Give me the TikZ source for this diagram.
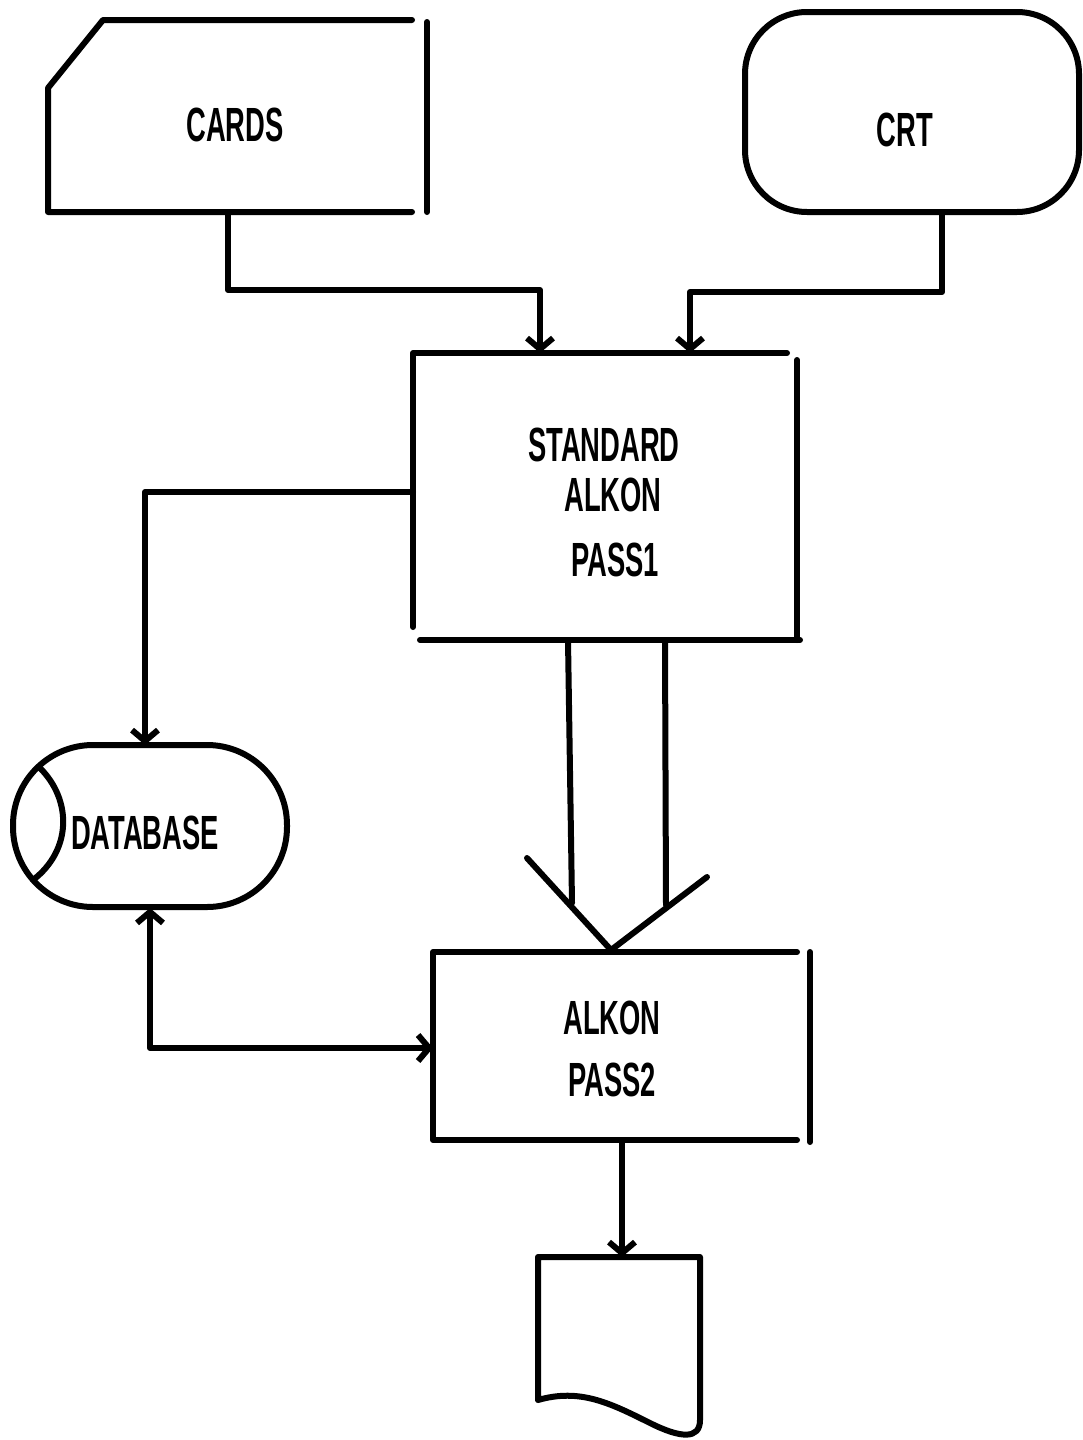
\documentclass[tikz,border=0pt]{standalone}
\usepackage{fontspec}
\newfontfamily\lblfont{Liberation Sans}[FakeStretch=0.57]
\usetikzlibrary{arrows.meta}
\begin{document}
\begin{tikzpicture}[x=1pt,y=-1pt,
  ln/.style={line width=6pt, line cap=round, line join=round},
  >={Straight Barb[length=11pt,width=26pt,line width=6pt]},
  lbl/.style={font=\lblfont\bfseries\fontsize{48}{52}\selectfont, inner sep=0pt}]
\useasboundingbox (0,0) rectangle (1083,1440);
% labels
\node[lbl] (cards) at (235,125) {CARDS};
\node[lbl] (crt) at (905,130) {CRT};
\node[lbl] (s1a) at (604,445) {STANDARD};
\node[lbl] (s1b) at (613,495) {ALKON};
\node[lbl] (s1c) at (615,560) {PASS1};
\node[lbl] (db) at (145,833) {DATABASE};
\node[lbl] (s2a) at (612,1018) {ALKON};
\node[lbl] (s2b) at (612,1080) {PASS2};
% connection points
\coordinate (cardsB) at (228,212);
\coordinate (crtB) at (942,212);
\coordinate (p1in1) at (540,353);
\coordinate (p1in2) at (690,353);
\coordinate (p1L) at (413,492);
\coordinate (dbT) at (145,745);
\coordinate (dbB) at (150,908);
\coordinate (p2L) at (433,1048);
\coordinate (p2B) at (622,1140);
\coordinate (docT) at (622,1257);
% CARDS
\draw[ln] (412,20) -- (103,20) -- (48,88) -- (48,212) -- (412,212);
\draw[ln] (427,22) -- (427,212);
% CRT
\draw[ln, rounded corners=62pt] (745,12) rectangle (1079,212);
% PASS1 box
\draw[ln] (413,627) -- (413,353) -- (787,353);
\draw[ln] (797,360) -- (797,640);
\draw[ln] (420,640) -- (800,640);
% DATABASE
\draw[ln, rounded corners=80pt] (13,745) rectangle (287,907);
\draw[ln] (40,768) .. controls (72,800) and (72,850) .. (33,880);
% big arrow
\draw[ln] (568,640) -- (572,903);
\draw[ln] (665,640) -- (666,905);
\draw[ln] (527,858) -- (611,950) -- (707,877);
% PASS2 box
\draw[ln] (797,952) -- (433,952) -- (433,1140) -- (797,1140);
\draw[ln] (810,952) -- (810,1142);
% document
\draw[ln] (538,1400) -- (538,1257) -- (700,1257) -- (700,1420)
  .. controls (700,1440) and (680,1438) .. (650,1423)
  .. controls (610,1403) and (580,1388) .. (538,1400);
% connectors
\draw[ln,->] (cardsB) |- (540,290) -- (p1in1);
\draw[ln,->] (crtB) |- (690,292) -- (p1in2);
\draw[ln,->] (p1L) -| (dbT);
\draw[ln,<->] (dbB) |- (p2L);
\draw[ln,->] (p2B) -- (docT);
\end{tikzpicture}
\end{document}
